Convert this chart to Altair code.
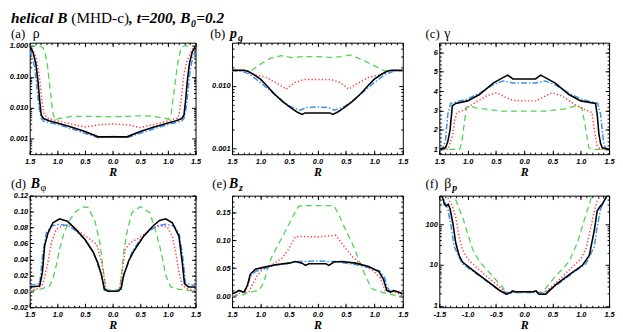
import altair as alt
import pandas as pd

# ---------------- data ----------------
# (a) rho
A_R_BLACK = [-1.5, -1.44, -1.39, -1.35, -1.32, -1.29, -1.25, -1.15, -1.0, -0.75, -0.5, -0.26, 0.0, 0.26, 0.5, 0.75, 1.0, 1.15, 1.25, 1.29, 1.32, 1.35, 1.39, 1.44, 1.5]
A_V_BLACK = [1.0, 0.62, 0.27, 0.07, 0.017, 0.0057, 0.0045, 0.0038, 0.0032, 0.0024, 0.0017, 0.00115, 0.00115, 0.00115, 0.0017, 0.0024, 0.0032, 0.0038, 0.0045, 0.0057, 0.017, 0.07, 0.27, 0.62, 1.0]
A_R_BLUE = [-1.5, -1.45, -1.41, -1.38, -1.35, -1.32, -1.29, -1.25, -1.0, -0.75, -0.5, -0.26, 0.0, 0.26, 0.5, 0.75, 1.0, 1.25, 1.29, 1.32, 1.35, 1.38, 1.41, 1.45, 1.5]
A_V_BLUE = [0.7, 0.4, 0.2, 0.07, 0.02, 0.008, 0.0045, 0.0037, 0.0029, 0.0021, 0.0015, 0.00108, 0.0012, 0.00108, 0.0015, 0.0021, 0.0029, 0.0037, 0.0045, 0.008, 0.02, 0.07, 0.2, 0.4, 0.7]
A_R_RED = [-1.5, -1.44, -1.38, -1.32, -1.28, -1.24, -1.19, -1.0, -0.75, -0.5, -0.26, 0.0, 0.26, 0.5, 0.75, 1.0, 1.19, 1.24, 1.29, 1.34, 1.38, 1.44, 1.5]
A_V_RED = [1.0, 0.7, 0.38, 0.09, 0.017, 0.0065, 0.0047, 0.0038, 0.003, 0.0024, 0.0028, 0.003, 0.0028, 0.0023, 0.0029, 0.0038, 0.0047, 0.017, 0.12, 0.3, 0.45, 0.75, 1.0]
A_R_GREEN = [-1.5, -1.32, -1.26, -1.22, -1.18, -1.12, -1.08, -1.04, -0.97, -0.74, -0.5, 0.0, 0.5, 0.74, 0.97, 1.01, 1.06, 1.12, 1.18, 1.24, 1.3, 1.5]
A_V_GREEN = [1.0, 1.0, 0.85, 0.55, 0.24, 0.027, 0.0066, 0.004, 0.0045, 0.0053, 0.0053, 0.0051, 0.0055, 0.0053, 0.0045, 0.0042, 0.0066, 0.044, 0.3, 0.89, 1.0, 1.0]

# (b) p_g
B_R_BLACK = [-1.5, -1.3, -1.22, -1.12, -1.0, -0.88, -0.76, -0.61, -0.46, -0.35, -0.27, -0.22, 0.22, 0.27, 0.35, 0.46, 0.61, 0.76, 0.88, 1.0, 1.12, 1.22, 1.3, 1.5]
B_V_BLACK = [0.0178, 0.0178, 0.0171, 0.0152, 0.0128, 0.0099, 0.0075, 0.0056, 0.0044, 0.0038, 0.0035, 0.0037, 0.0037, 0.0035, 0.0038, 0.0044, 0.0056, 0.0075, 0.0099, 0.0128, 0.0152, 0.0171, 0.0178, 0.0178]
B_R_BLUE = [-1.5, -1.35, -1.2, -1.0, -0.76, -0.6, -0.46, -0.3, -0.2, 0.0, 0.2, 0.3, 0.46, 0.6, 0.76, 1.0, 1.2, 1.35, 1.5]
B_V_BLUE = [0.0173, 0.0173, 0.0155, 0.0113, 0.0074, 0.0056, 0.0046, 0.0041, 0.0045, 0.0046, 0.0045, 0.0041, 0.0046, 0.0056, 0.0074, 0.0113, 0.0155, 0.0173, 0.0173]
B_R_RED = [-1.5, -1.25, -1.12, -0.91, -0.7, -0.55, -0.4, -0.23, 0.0, 0.23, 0.4, 0.55, 0.7, 0.91, 1.12, 1.25, 1.5]
B_V_RED = [0.0173, 0.0172, 0.0152, 0.0138, 0.0109, 0.0089, 0.0113, 0.0127, 0.0127, 0.0127, 0.0113, 0.0089, 0.0109, 0.0138, 0.0152, 0.0172, 0.0173]
B_R_GREEN = [-1.5, -1.3, -1.18, -1.0, -0.82, -0.64, -0.46, -0.23, 0.0, 0.25, 0.43, 0.58, 0.79, 1.02, 1.2, 1.3, 1.5]
B_V_GREEN = [0.0178, 0.0178, 0.0171, 0.0223, 0.0277, 0.0305, 0.0284, 0.0294, 0.0294, 0.0284, 0.0294, 0.0313, 0.0261, 0.0205, 0.0171, 0.0175, 0.0178]

# (c) gamma
C_R_BLACK = [-1.5, -1.39, -1.35, -1.31, -1.27, -1.21, -1.0, -0.79, -0.55, -0.375, -0.29, -0.2, 0.0, 0.2, 0.29, 0.375, 0.55, 0.79, 1.0, 1.26, 1.29, 1.32, 1.35, 1.38, 1.5]
C_V_BLACK = [1.0, 1.08, 1.4, 2.0, 3.25, 3.37, 3.5, 3.83, 4.42, 4.7, 4.83, 4.63, 4.63, 4.63, 4.83, 4.7, 4.42, 3.83, 3.5, 3.37, 2.8, 1.8, 1.3, 1.08, 1.0]
C_R_BLUE = [-1.5, -1.43, -1.39, -1.35, -1.3, -1.0, -0.79, -0.55, -0.375, -0.2, 0.0, 0.2, 0.375, 0.55, 0.79, 1.0, 1.3, 1.35, 1.41, 1.45, 1.5]
C_V_BLUE = [1.0, 1.1, 1.5, 2.8, 3.37, 3.6, 3.9, 4.33, 4.53, 4.42, 4.42, 4.42, 4.53, 4.33, 3.9, 3.6, 3.37, 2.8, 1.2, 1.05, 1.0]
C_R_RED = [-1.5, -1.35, -1.27, -1.23, -1.19, -1.09, -0.91, -0.67, -0.49, -0.32, -0.2, 0.0, 0.22, 0.32, 0.49, 0.67, 0.88, 1.11, 1.2, 1.24, 1.29, 1.35, 1.5]
C_V_RED = [1.0, 1.0, 1.67, 2.5, 2.9, 3.0, 3.33, 3.75, 3.92, 3.67, 3.53, 3.5, 3.5, 3.67, 3.92, 3.75, 3.33, 3.0, 2.9, 2.0, 1.17, 1.0, 1.0]
C_R_GREEN = [-1.5, -1.14, -1.1, -1.06, -1.02, -0.97, -0.85, -0.67, -0.43, 0.0, 0.4, 0.7, 0.93, 1.02, 1.08, 1.14, 1.18, 1.5]
C_V_GREEN = [1.0, 1.0, 1.4, 2.33, 3.17, 3.25, 3.13, 3.08, 2.97, 2.97, 2.97, 3.08, 3.25, 3.13, 2.17, 1.1, 1.0, 1.0]

# (d) B_phi
D_R_BLACK = [-1.5, -1.32, -1.27, -1.23, -1.17, -1.08, -0.96, -0.82, -0.67, -0.5, -0.35, -0.27, -0.2, -0.15, -0.09, 0.0, 0.09, 0.15, 0.2, 0.29, 0.38, 0.56, 0.73, 0.85, 0.96, 1.08, 1.2, 1.26, 1.3, 1.37, 1.5]
D_V_BLACK = [0.0054, 0.0066, 0.024, 0.057, 0.073, 0.086, 0.091, 0.088, 0.078, 0.065, 0.049, 0.036, 0.02, 0.003, 0.0, 0.0, 0.0, 0.003, 0.02, 0.038, 0.05, 0.069, 0.082, 0.089, 0.091, 0.086, 0.069, 0.036, 0.0095, 0.0054, 0.0054]
D_R_BLUE = [-1.5, -1.32, -1.26, -1.2, -1.11, -0.96, -0.79, -0.67, -0.5, -0.35, -0.2, -0.15, -0.09, 0.0, 0.09, 0.15, 0.2, 0.35, 0.5, 0.67, 0.79, 0.96, 1.11, 1.2, 1.26, 1.32, 1.5]
D_V_BLUE = [0.0074, 0.0095, 0.049, 0.073, 0.082, 0.084, 0.082, 0.076, 0.065, 0.049, 0.02, 0.001, 0.0, 0.0, 0.0, 0.001, 0.02, 0.049, 0.065, 0.076, 0.082, 0.084, 0.082, 0.073, 0.049, 0.0095, 0.0074]
D_R_RED = [-1.5, -1.35, -1.26, -1.17, -1.11, -1.02, -0.91, -0.76, -0.61, -0.44, -0.29, -0.2, -0.15, -0.12, 0.0, 0.12, 0.16, 0.23, 0.32, 0.5, 0.67, 0.85, 0.99, 1.08, 1.14, 1.2, 1.26, 1.37, 1.5]
D_V_RED = [0.001, 0.0033, 0.0095, 0.036, 0.061, 0.078, 0.082, 0.084, 0.075, 0.067, 0.059, 0.036, 0.016, 0.001, 0.0, 0.001, 0.02, 0.053, 0.061, 0.068, 0.077, 0.082, 0.081, 0.069, 0.049, 0.024, 0.0074, 0.0025, 0.001]
D_R_GREEN = [-1.5, -1.32, -1.14, -1.08, -1.02, -0.96, -0.88, -0.79, -0.67, -0.53, -0.44, -0.32, -0.23, -0.18, -0.12, 0.0, 0.12, 0.15, 0.2, 0.27, 0.35, 0.5, 0.67, 0.79, 0.88, 0.96, 1.05, 1.2, 1.5]
D_V_GREEN = [0.0, 0.0025, 0.0066, 0.016, 0.032, 0.053, 0.073, 0.088, 0.1, 0.106, 0.105, 0.088, 0.061, 0.032, 0.003, 0.0, 0.003, 0.012, 0.049, 0.078, 0.099, 0.106, 0.099, 0.073, 0.049, 0.02, 0.0054, 0.0025, 0.0]

# (e) B_z
E_R_BLACK = [-1.5, -1.43, -1.38, -1.29, -1.23, -1.18, -1.09, -0.97, -0.74, -0.5, -0.39, -0.27, -0.21, -0.15, 0.0, 0.15, 0.2, 0.29, 0.43, 0.67, 0.9, 1.08, 1.16, 1.22, 1.28, 1.34, 1.43, 1.5]
E_V_BLACK = [0.004, 0.007, 0.01, 0.007, 0.019, 0.039, 0.048, 0.051, 0.056, 0.059, 0.062, 0.059, 0.055, 0.058, 0.058, 0.058, 0.055, 0.061, 0.062, 0.059, 0.053, 0.044, 0.03, 0.01, 0.007, 0.01, 0.007, 0.004]
E_R_BLUE = [-1.5, -1.43, -1.38, -1.29, -1.23, -1.18, -1.09, -0.97, -0.74, -0.5, -0.35, -0.2, 0.0, 0.2, 0.35, 0.5, 0.74, 0.97, 1.09, 1.18, 1.23, 1.29, 1.38, 1.43, 1.5]
E_V_BLUE = [0.004, 0.007, 0.009, 0.007, 0.017, 0.035, 0.044, 0.048, 0.055, 0.059, 0.062, 0.062, 0.063, 0.062, 0.062, 0.059, 0.055, 0.049, 0.045, 0.033, 0.015, 0.007, 0.009, 0.007, 0.004]
E_R_RED = [-1.5, -1.32, -1.2, -1.15, -1.06, -0.97, -0.8, -0.62, -0.5, -0.39, -0.27, 0.0, 0.32, 0.43, 0.61, 0.78, 0.96, 1.1, 1.19, 1.37, 1.5]
E_V_RED = [0.0, 0.007, 0.008, 0.019, 0.036, 0.047, 0.056, 0.068, 0.085, 0.106, 0.107, 0.106, 0.109, 0.094, 0.071, 0.056, 0.047, 0.033, 0.01, 0.007, 0.001]
E_R_GREEN = [-1.5, -1.32, -1.2, -1.03, -0.94, -0.88, -0.8, -0.68, -0.56, -0.44, -0.33, -0.27, 0.29, 0.37, 0.49, 0.64, 0.75, 0.87, 0.96, 1.13, 1.37, 1.5]
E_V_GREEN = [0.0, 0.002, 0.007, 0.01, 0.024, 0.048, 0.071, 0.094, 0.117, 0.141, 0.161, 0.162, 0.162, 0.147, 0.12, 0.088, 0.059, 0.03, 0.013, 0.007, 0.001, 0.0]

# (f) beta_p
F_R_BLACK = [-1.5, -1.44, -1.41, -1.38, -1.34, -1.31, -1.26, -1.21, -1.15, -1.09, -0.91, -0.68, -0.44, -0.32, -0.24, -0.21, -0.15, 0.0, 0.15, 0.21, 0.26, 0.38, 0.56, 0.79, 1.03, 1.15, 1.24, 1.29, 1.35, 1.38, 1.44, 1.5]
F_V_BLACK = [600, 443, 308, 281, 308, 235, 104, 35, 17, 11.8, 7.5, 4.3, 2.4, 1.92, 2.1, 2.3, 2.2, 2.2, 2.2, 2.3, 1.92, 1.92, 3.3, 5.7, 9.8, 17, 72, 214, 281, 308, 443, 600]
F_R_BLUE = [-1.5, -1.41, -1.35, -1.29, -1.24, -1.15, -1.09, -0.91, -0.68, -0.44, -0.32, 0.0, 0.32, 0.44, 0.68, 0.91, 1.09, 1.15, 1.24, 1.29, 1.35, 1.41, 1.5]
F_V_BLUE = [600, 369, 235, 86, 29, 15.5, 10.7, 7.1, 4.1, 2.4, 2.1, 2.1, 2.1, 2.4, 4.1, 7.1, 10.7, 15.5, 29, 86, 235, 369, 600]
F_R_RED = [-1.5, -1.36, -1.32, -1.28, -1.21, -1.15, -1.09, -1.0, -0.79, -0.56, -0.38, -0.29, -0.21, 0.0, 0.21, 0.32, 0.56, 0.79, 1.0, 1.09, 1.18, 1.24, 1.29, 1.35, 1.5]
F_V_RED = [600, 480, 369, 307, 150, 50, 24, 14, 7.4, 4.0, 2.5, 1.9, 2.2, 2.2, 2.2, 1.9, 3.6, 7.4, 14, 24, 86, 214, 369, 520, 600]
F_R_GREEN = [-1.5, -1.24, -1.18, -1.09, -1.0, -0.91, -0.79, -0.65, -0.5, -0.38, -0.32, 0.0, 0.32, 0.5, 0.68, 0.79, 0.94, 1.06, 1.15, 1.2, 1.5]
F_V_GREEN = [600, 520, 307, 150, 60, 24, 12, 7.4, 4.3, 2.8, 2.1, 2.1, 2.1, 4.3, 8.2, 12, 35, 124, 307, 520, 600]

# tick values
X_MAJOR = [-1.5, -1.0, -0.5, 0.0, 0.5, 1.0, 1.5]
X_MINOR = [round(-1.5 + 0.1 * i, 2) for i in range(31)]
A_Y_MAJOR = [0.001, 0.01, 0.1, 1.0]
A_Y_MINOR = [k * 10.0 ** e for e in (-4, -3, -2, -1) for k in range(2, 10) if k * 10.0 ** e > 0.00032]
B_Y_MAJOR = [0.001, 0.01]
B_Y_MINOR = [0.0009] + [k * 0.001 for k in range(2, 10)] + [0.02, 0.03, 0.04]
C_Y_MAJOR = [1, 2, 3, 4, 5, 6]
C_Y_MINOR = [round(0.8 + 0.2 * i, 1) for i in range(29)]
D_Y_MAJOR = [-0.02, 0.0, 0.02, 0.04, 0.06, 0.08, 0.10, 0.12]
D_Y_MINOR = [round(-0.02 + 0.005 * i, 3) for i in range(29)]
E_Y_MAJOR = [0.0, 0.05, 0.10, 0.15]
E_Y_MINOR = [round(-0.02 + 0.01 * i, 2) for i in range(21)]
F_Y_MAJOR = [1, 10, 100]
F_Y_MINOR = [k * m for m in (1, 10, 100) for k in range(2, 10) if k * m <= 500]

# ---------------- styling ----------------
STYLE = {
    "green": dict(color="#4fd44f", strokeDash=[6, 4], strokeWidth=1.3),
    "red": dict(color="#ff3b3b", strokeDash=[1.3, 2.2], strokeWidth=1.5),
    "blue": dict(color="#3f8ef0", strokeDash=[6, 2, 1.5, 2], strokeWidth=1.5),
    "black": dict(color="#000000", strokeWidth=1.6),
}
SERIF = "Liberation Serif"
SANS = "Liberation Sans"
W_COL = [168, 173, 172]
H = 113
TICK = dict(labelFont=SANS, labelFontSize=7.5, labelFontStyle="italic", labelFontWeight="bold",
            labelColor="black", tickColor="black", tickWidth=1, domain=False, grid=False)


def x_axes(expr):
    main = alt.Axis(values=X_MAJOR, labelExpr=expr, orient="bottom", offset=-4, tickSize=4,
                    labelPadding=3, labelFlush=False, labelOverlap=False, title="R",
                    titleFont=SERIF, titleFontSize=12, titleFontStyle="italic", titleFontWeight="bold",
                    titleColor="black", titleBaseline="alphabetic", titleY=26, **TICK)
    top = alt.Axis(values=X_MAJOR, orient="top", offset=-4, tickSize=4, labels=False, title=None, **TICK)
    mb = alt.Axis(values=X_MINOR, orient="bottom", offset=-2, tickSize=2, labels=False, title=None, **TICK)
    mt = alt.Axis(values=X_MINOR, orient="top", offset=-2, tickSize=2, labels=False, title=None, **TICK)
    return main, top, mb, mt


def y_axes(major, minor, expr):
    main = alt.Axis(values=major, labelExpr=expr, orient="left", offset=-4, tickSize=4, labelPadding=2,
                    labelFlush=False, labelOverlap=False, title=None, **TICK)
    right = alt.Axis(values=major, orient="right", offset=-4, tickSize=4, labels=False, title=None, **TICK)
    ml = alt.Axis(values=minor, orient="left", offset=-2, tickSize=2, labels=False, title=None, **TICK)
    mr = alt.Axis(values=minor, orient="right", offset=-2, tickSize=2, labels=False, title=None, **TICK)
    return main, right, ml, mr


ONE = pd.DataFrame({"k": [0]})


def text_layer(txt, dx, dy, size, style="normal", weight="normal"):
    return alt.Chart(ONE).mark_text(align="left", baseline="alphabetic", font=SERIF, fontSize=size,
                                    fontStyle=style, fontWeight=weight, color="black").encode(
        x=alt.value(dx), y=alt.value(dy), text=alt.value(txt))


def panel(series, ydom, ylog, ymaj, ymin, yexpr, xexpr, width, pieces):
    xs = alt.Scale(domain=[-1.5, 1.5], nice=False, zero=False)
    ys = alt.Scale(domain=ydom, type="log" if ylog else "linear", nice=False, zero=False)
    xa, xt, xmb, xmt = x_axes(xexpr)
    ya, yr, yml, ymr = y_axes(ymaj, ymin, yexpr)
    lines = []
    frames = []
    for name in ["green", "red", "blue", "black"]:
        r, v = series[name]
        df = pd.DataFrame({"R": r, "v": v})
        frames.append(df)
        lines.append(alt.Chart(df).mark_line(clip=True, **STYLE[name]).encode(
            x=alt.X("R:Q", scale=xs, axis=xa), y=alt.Y("v:Q", scale=ys, axis=ya)))
    alldf = pd.concat(frames, ignore_index=True)

    def ghost(xax, yax):
        return alt.Chart(alldf).mark_point(opacity=0, clip=True).encode(
            x=alt.X("R:Q", scale=xs, axis=xax), y=alt.Y("v:Q", scale=ys, axis=yax))

    layers = [alt.layer(*lines), ghost(xt, yr), ghost(xmb, yml), ghost(xmt, ymr)]
    layers += [text_layer(*p) for p in pieces]
    return alt.layer(*layers).resolve_scale(x="independent", y="independent").properties(width=width, height=H)


ABS = "format(abs(datum.value), '.1f')"
SIGNED = "replace(format(datum.value, '.1f'), '\u2212', '-')"
LY = -5
LY2 = -8
TY = -20
X0 = -19

pa = panel({"black": (A_R_BLACK, A_V_BLACK), "blue": (A_R_BLUE, A_V_BLUE), "red": (A_R_RED, A_V_RED), "green": (A_R_GREEN, A_V_GREEN)},
           [10 ** -3.5, 10 ** 0.1], True, A_Y_MAJOR, A_Y_MINOR, "format(datum.value, '.3f')", ABS, W_COL[0],
           [("helical B", X0, TY, 15.5, "italic", "bold"),
            ("(MHD-c)", X0 + 61.2, TY, 15.5),
            (", t=200, B", X0 + 119.7, TY, 15.5, "italic", "bold"),
            ("0", X0 + 182.3, TY + 4, 10, "italic", "bold"),
            ("=0.2", X0 + 187.8, TY, 15.5, "italic", "bold"),
            ("(a)", -19, LY, 13), ("\u03c1", 3, LY, 14)])
pb = panel({"black": (B_R_BLACK, B_V_BLACK), "blue": (B_R_BLUE, B_V_BLUE), "red": (B_R_RED, B_V_RED), "green": (B_R_GREEN, B_V_GREEN)},
           [0.00081, 0.049], True, B_Y_MAJOR, B_Y_MINOR, "format(datum.value, '.3f')", ABS, W_COL[1],
           [("(b)", -22, LY, 13), ("p", -2, LY, 14, "italic", "bold"), ("g", 6, LY + 3, 10, "italic", "bold")])
pc = panel({"black": (C_R_BLACK, C_V_BLACK), "blue": (C_R_BLUE, C_V_BLUE), "red": (C_R_RED, C_V_RED), "green": (C_R_GREEN, C_V_GREEN)},
           [0.75, 6.5], False, C_Y_MAJOR, C_Y_MINOR, "format(datum.value, 'd')", ABS, W_COL[2],
           [("(c)", -14, LY, 13), ("\u03b3", 5, LY, 14)])
pd_ = panel({"black": (D_R_BLACK, D_V_BLACK), "blue": (D_R_BLUE, D_V_BLUE), "red": (D_R_RED, D_V_RED), "green": (D_R_GREEN, D_V_GREEN)},
            [-0.02, 0.12], False, D_Y_MAJOR, D_Y_MINOR, "replace(format(datum.value, '.2f'), '\u2212', '-')", ABS, W_COL[0],
            [("(d)", -19, LY2, 13), ("B", 1, LY2, 14, "italic", "bold"), ("\u03c6", 11, LY2 + 3, 10)])
pe = panel({"black": (E_R_BLACK, E_V_BLACK), "blue": (E_R_BLUE, E_V_BLUE), "red": (E_R_RED, E_V_RED), "green": (E_R_GREEN, E_V_GREEN)},
           [-0.02, 0.18], False, E_Y_MAJOR, E_Y_MINOR, "format(datum.value, '.2f')", ABS, W_COL[1],
           [("(e)", -20, LY2, 13), ("B", -3, LY2, 14, "italic", "bold"), ("z", 7, LY2 + 3, 10, "italic", "bold")])
pf = panel({"black": (F_R_BLACK, F_V_BLACK), "blue": (F_R_BLUE, F_V_BLUE), "red": (F_R_RED, F_V_RED), "green": (F_R_GREEN, F_V_GREEN)},
           [0.92, 500], True, F_Y_MAJOR, F_Y_MINOR, "format(datum.value, 'd')", SIGNED, W_COL[2],
           [("(f)", -14, LY2, 13), ("\u03b2", 5, LY2, 14), ("p", 13, LY2 + 3, 10, "italic", "bold")])

chart = alt.ConcatChart(concat=[pa, pb, pc, pd_, pe, pf], columns=3,
                        spacing={"row": 42, "column": 37}, bounds="flush").properties(
    padding=0).configure_view(stroke="black", strokeWidth=1)

chart.save("out.html", embed_options={"renderer": "svg", "actions": False})
